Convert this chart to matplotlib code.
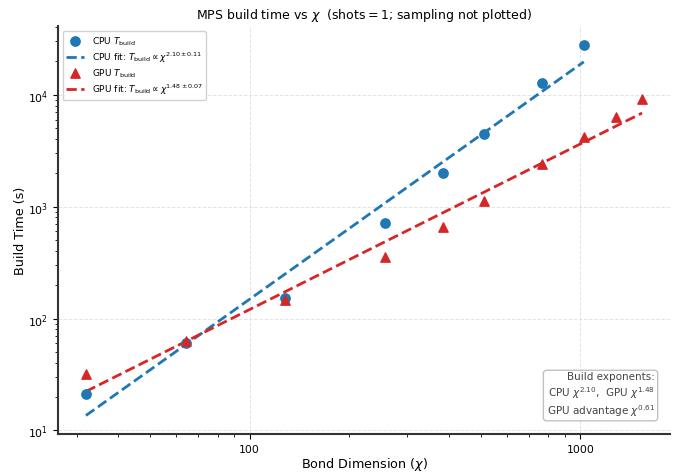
import numpy as np
import matplotlib
matplotlib.use("Agg")
import matplotlib.pyplot as plt
from matplotlib.ticker import ScalarFormatter, NullFormatter

cpu_chi = [32, 64, 128, 256, 384, 512, 768, 1024]
cpu_t = [21, 60, 152, 713, 1990, 4470, 12800, 28000]
gpu_chi = [32, 64, 128, 256, 384, 512, 768, 1024, 1280, 1536]
gpu_t = [32, 63, 146, 354, 656, 1120, 2400, 4170, 6330, 9180]

cpu_fit_exp, cpu_fit_at32 = 2.10, 13.6
gpu_fit_exp, gpu_fit_at32 = 1.48, 22.3

fig = plt.figure(figsize=(6.92, 4.77), dpi=100)
ax = fig.add_axes([0.084, 0.088, 0.884, 0.855])

blue = "#1f77b4"
red = "#d62728"

ax.scatter(cpu_chi, cpu_t, s=45, color=blue, marker="o", zorder=3, label=r"CPU $T_{\rm build}$")
xc = np.geomspace(min(cpu_chi), max(cpu_chi), 100)
ax.plot(xc, cpu_fit_at32 * (xc / 32) ** cpu_fit_exp, "--", color=blue, lw=2,
        label=r"CPU fit: $T_{\rm build} \propto \chi^{2.10\pm0.11}$")
ax.scatter(gpu_chi, gpu_t, s=45, color=red, marker="^", zorder=3, label=r"GPU $T_{\rm build}$")
xg = np.geomspace(min(gpu_chi), max(gpu_chi), 100)
ax.plot(xg, gpu_fit_at32 * (xg / 32) ** gpu_fit_exp, "--", color=red, lw=2,
        label=r"GPU fit: $T_{\rm build} \propto \chi^{1.48\pm0.07}$")

ax.set_xscale("log")
ax.set_yscale("log")
ax.xaxis.set_major_formatter(ScalarFormatter())
ax.xaxis.set_minor_formatter(NullFormatter())
ax.grid(True, which="major", linestyle="--", color="#dddddd", lw=0.7, alpha=0.8)
for s in ["top", "right"]:
    ax.spines[s].set_visible(False)
for s in ["left", "bottom"]:
    ax.spines[s].set_color("#333333")
    ax.spines[s].set_linewidth(1.5)

ax.set_xlabel(r"Bond Dimension ($\chi$)", fontsize=9.2, labelpad=1)
ax.set_ylabel("Build Time (s)", fontsize=9.2, labelpad=1)
ax.set_title(r"MPS build time vs $\chi$  (shots$=1$; sampling not plotted)", fontsize=9)
ax.tick_params(labelsize=7.8)

ax.legend(loc="upper left", fontsize=6.5, frameon=True, framealpha=0.9, labelspacing=0.3)

ax.text(0.975, 0.04, "Build exponents:\n" + r"CPU $\chi^{2.10}$,  GPU $\chi^{1.48}$" + "\n" + r"GPU advantage $\chi^{0.61}$",
        transform=ax.transAxes, ha="right", va="bottom", fontsize=7.5, color="#444444",
        bbox=dict(boxstyle="round,pad=0.3", facecolor="white", edgecolor="#bbbbbb", alpha=0.9))

fig.savefig("out.png", dpi=100)
